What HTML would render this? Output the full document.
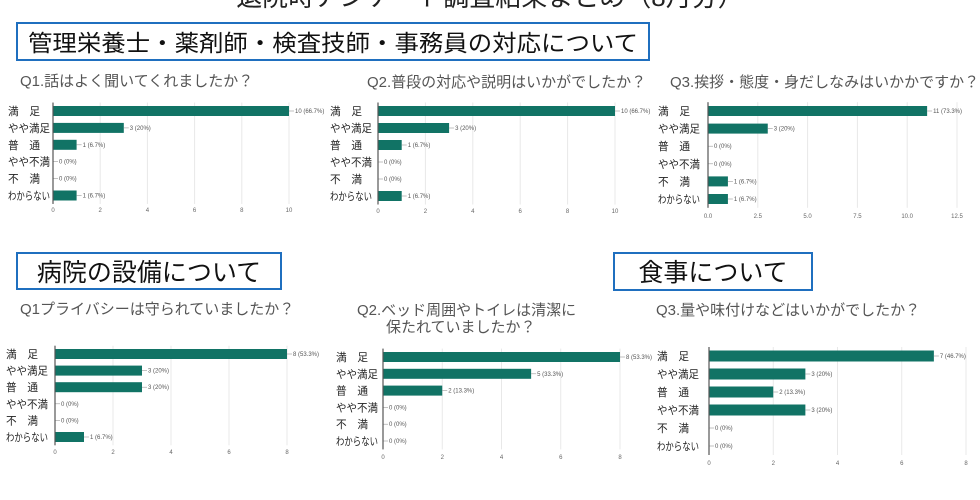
<!DOCTYPE html>
<html><head><meta charset="utf-8">
<style>
html,body{margin:0;padding:0;background:#fff;width:980px;height:500px;overflow:hidden}
svg{display:block;font-family:"Liberation Sans","Noto Sans CJK JP",sans-serif}
</style></head>
<body>
<svg id="s" width="980" height="500" viewBox="0 0 980 500">
<text x="490" y="6" font-size="26" text-anchor="middle" fill="#222">退院時アンケート調査結果まとめ（8月分）</text>
<rect x="17" y="23" width="632" height="37" fill="#fff" stroke="#1f6fbf" stroke-width="2"/>
<text x="28" y="51" font-size="23" fill="#111" textLength="610" lengthAdjust="spacingAndGlyphs">管理栄養士・薬剤師・検査技師・事務員の対応について</text>
<rect x="17" y="253" width="264" height="36" fill="#fff" stroke="#1f6fbf" stroke-width="2"/>
<text x="149" y="281" font-size="25" text-anchor="middle" fill="#111">病院の設備について</text>
<rect x="614" y="253" width="198" height="37" fill="#fff" stroke="#1f6fbf" stroke-width="2"/>
<text x="713" y="281" font-size="25" text-anchor="middle" fill="#111">食事について</text>
</svg>
<script>
const categories = ["満　足","やや満足","普　通","やや不満","不　満","わからない"];
const q1Values = [10,3,1,0,0,1];
const q1Pct = ["66.7%","20%","6.7%","0%","0%","6.7%"];
const q2Values = [10,3,1,0,0,1];
const q2Pct = ["66.7%","20%","6.7%","0%","0%","6.7%"];
const q3Values = [11,3,0,0,1,1];
const q3Pct = ["73.3%","20%","0%","0%","6.7%","6.7%"];
const f1Values = [8,3,3,0,0,1];
const f1Pct = ["53.3%","20%","20%","0%","0%","6.7%"];
const f2Values = [8,5,2,0,0,0];
const f2Pct = ["53.3%","33.3%","13.3%","0%","0%","0%"];
const m3Values = [7,3,2,3,0,0];
const m3Pct = ["46.7%","20%","13.3%","20%","0%","0%"];
const ticks10 = ["0","2","4","6","8","10"];
const ticks125 = ["0.0","2.5","5.0","7.5","10.0","12.5"];
const ticks8 = ["0","2","4","6","8"];

const NS="http://www.w3.org/2000/svg";
const svg=document.getElementById('s');
function mk(tag,attrs,parent){const e=document.createElementNS(NS,tag);for(const k in attrs)e.setAttribute(k,attrs[k]);(parent||svg).appendChild(e);return e;}

function chart(cfg){
  const g=mk('g',{});
  
  
  cfg.title.forEach((t,i)=>{
    const tt=mk('text',{x:cfg.tx[i],y:cfg.ty[i],'font-size':15,fill:'#555'},g);
    tt.textContent=t;
    
    
  });
  const max=parseFloat(cfg.ticks[cfg.ticks.length-1]);
  const xs=v=>cfg.x0+(v/max)*(cfg.x1-cfg.x0);
  const ys=i=>cfg.y0+i*cfg.step;
  cfg.ticks.forEach(t=>{
    const v=parseFloat(t);
    mk('line',{x1:xs(v),x2:xs(v),y1:ys(0)-cfg.step/2,y2:ys(5)+cfg.step/2,stroke:'#e8e8e8','stroke-width':1},g);
    const tl=mk('text',{x:xs(v),y:cfg.tickY,'font-size':6,fill:'#666','text-anchor':'middle'},g);
    tl.textContent=t;
    
    
  });
  categories.forEach((c,i)=>{
    const w = c.indexOf('　')>=0 ? 32 : 42;
    const cl=mk('text',{x:cfg.lx,y:ys(i)+4,'font-size':11,fill:'#222',textLength:w,lengthAdjust:'spacingAndGlyphs'},g);
    cl.textContent=c;
    
    
    const v=cfg.values[i];
    if(v>0){
      const b=mk('rect',{x:cfg.x0,y:ys(i)-cfg.bh/2,width:xs(v)-cfg.x0,height:cfg.bh,fill:'#117365'},g);
      
      
    }
    const ex=xs(v);
    mk('line',{x1:ex,x2:ex+5,y1:ys(i),y2:ys(i),stroke:'#999','stroke-width':0.6},g);
    const vl=mk('text',{x:ex+6,y:ys(i)+2,'font-size':6,fill:'#555'},g);
    vl.textContent=v+" ("+cfg.pct[i]+")";
    
    
  });
  mk('line',{x1:cfg.x0,x2:cfg.x0,y1:ys(0)-cfg.step/2,y2:ys(5)+cfg.step/2,stroke:'#555','stroke-width':1.2},g);
}

chart({name:'chart-staff-q1',title:['Q1.話はよく聞いてくれましたか？'],tx:[20],ty:[86],values:q1Values,pct:q1Pct,ticks:ticks10,x0:53,x1:289,y0:111,step:16.9,bh:10,lx:8,tickY:212});
chart({name:'chart-staff-q2',title:['Q2.普段の対応や説明はいかがでしたか？'],tx:[367],ty:[87],values:q2Values,pct:q2Pct,ticks:ticks10,x0:378,x1:615,y0:111,step:17,bh:10,lx:330,tickY:213});
chart({name:'chart-staff-q3',title:['Q3.挨拶・態度・身だしなみはいかかですか？'],tx:[670],ty:[87],values:q3Values,pct:q3Pct,ticks:ticks125,x0:708,x1:957,y0:111,step:17.6,bh:10,lx:658,tickY:218});
chart({name:'chart-facility-q1',title:['Q1プライバシーは守られていましたか？'],tx:[20],ty:[314],values:f1Values,pct:f1Pct,ticks:ticks8,x0:55,x1:287,y0:354,step:16.6,bh:10,lx:6,tickY:454});
chart({name:'chart-facility-q2',title:['Q2.ベッド周囲やトイレは清潔に','保たれていましたか？'],tx:[357,386],ty:[315,332],values:f2Values,pct:f2Pct,ticks:ticks8,x0:383,x1:620,y0:357,step:16.8,bh:10,lx:336,tickY:459});
chart({name:'chart-meal-q3',title:['Q3.量や味付けなどはいかがでしたか？'],tx:[656],ty:[315],values:m3Values,pct:m3Pct,ticks:ticks8,x0:709,x1:966,y0:356,step:18,bh:11,lx:657,tickY:465});
</script>
</body></html>
